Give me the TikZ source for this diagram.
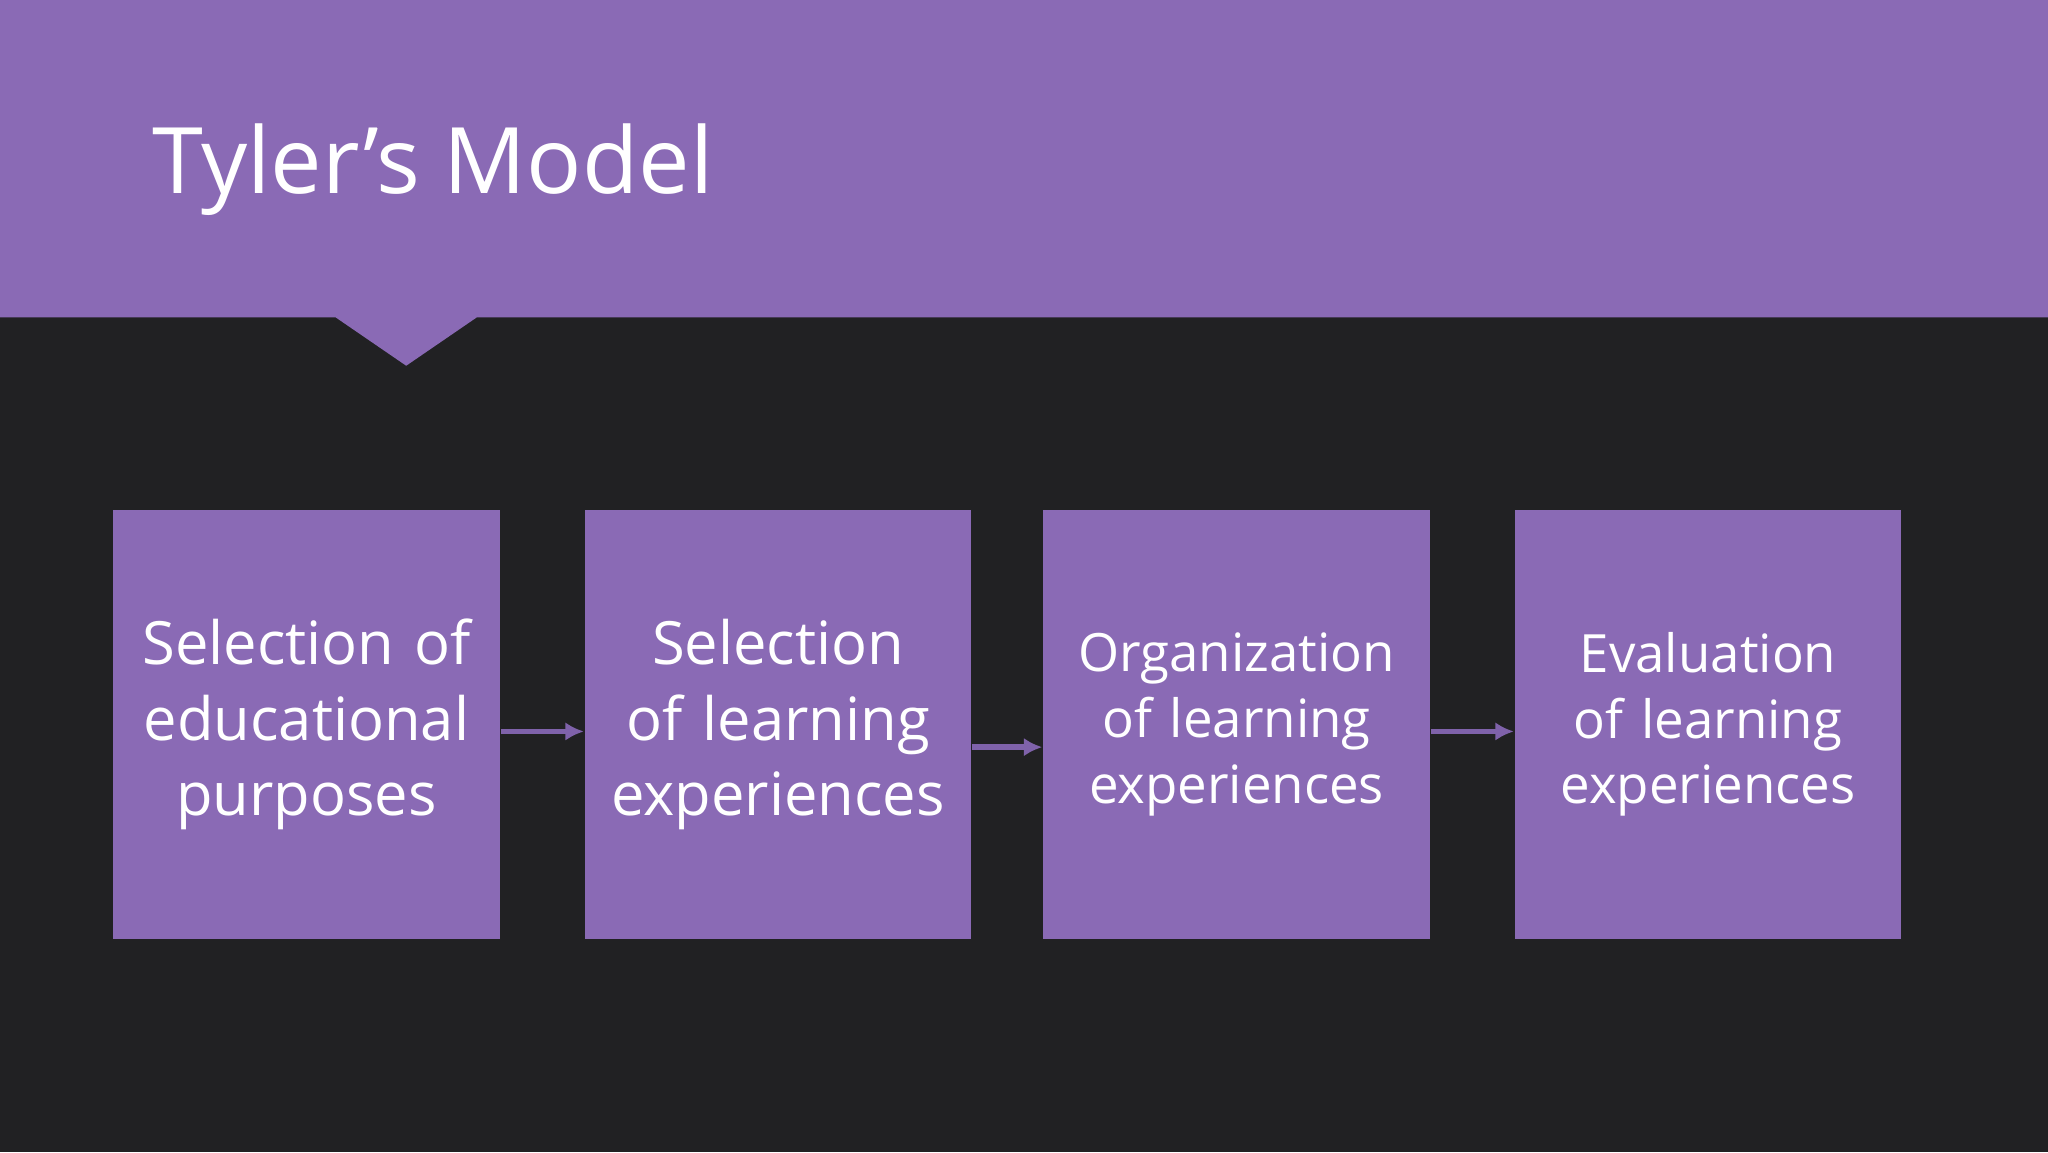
\documentclass[tikz,border=0pt]{standalone}
\usepackage{fontspec}
\setmainfont{Open Sans}
\usetikzlibrary{arrows.meta}
\definecolor{bgc}{HTML}{212123}
\definecolor{purp}{HTML}{8A6AB5}
\definecolor{arr}{HTML}{7F62AA}
\tikzset{
  box/.style={fill=purp,draw=none,minimum width=2.96cm,minimum height=3.28cm,anchor=north west,inner sep=0pt,text=white,align=center,text width=2.9cm},
  conn/.style={draw=arr,line width=1.2pt,-{Latex[length=4pt,width=4pt]}}
}
\begin{document}
\begin{tikzpicture}[x=1cm,y=-1cm]
\useasboundingbox (0,0) rectangle (15.68,8.82);
\fill[bgc] (0,0) rectangle (15.68,8.82);
\fill[purp] (0,0) -- (15.68,0) -- (15.68,2.43) -- (3.65,2.43) -- (3.11,2.80) -- (2.57,2.43) -- (0,2.43) -- cycle;
\node[anchor=base west,text=white,font=\fontsize{20}{24}\selectfont,inner sep=0pt] (title) at (1.16,1.48) {Tyler’s Model};
\node[box,font=\fontsize{13}{16.5}\selectfont] (b1) at (0.86,3.90) {Selection of educational purposes};
\node[box,font=\fontsize{13}{16.5}\selectfont] (b2) at (4.47,3.90) {Selection of learning experiences};
\node[box,font=\fontsize{11.5}{14.3}\selectfont] (b3) at (7.98,3.90) {Organization of learning experiences};
\node[box,font=\fontsize{11.5}{14.3}\selectfont] (b4) at (11.59,3.90) {Evaluation of learning experiences};
\draw[conn] (b1.east |- 0,5.60) -- (b2.west |- 0,5.60);
\draw[conn] (b2.east |- 0,5.72) -- (b3.west |- 0,5.72);
\draw[conn] (b3.east |- 0,5.60) -- (b4.west |- 0,5.60);
\end{tikzpicture}
\end{document}
